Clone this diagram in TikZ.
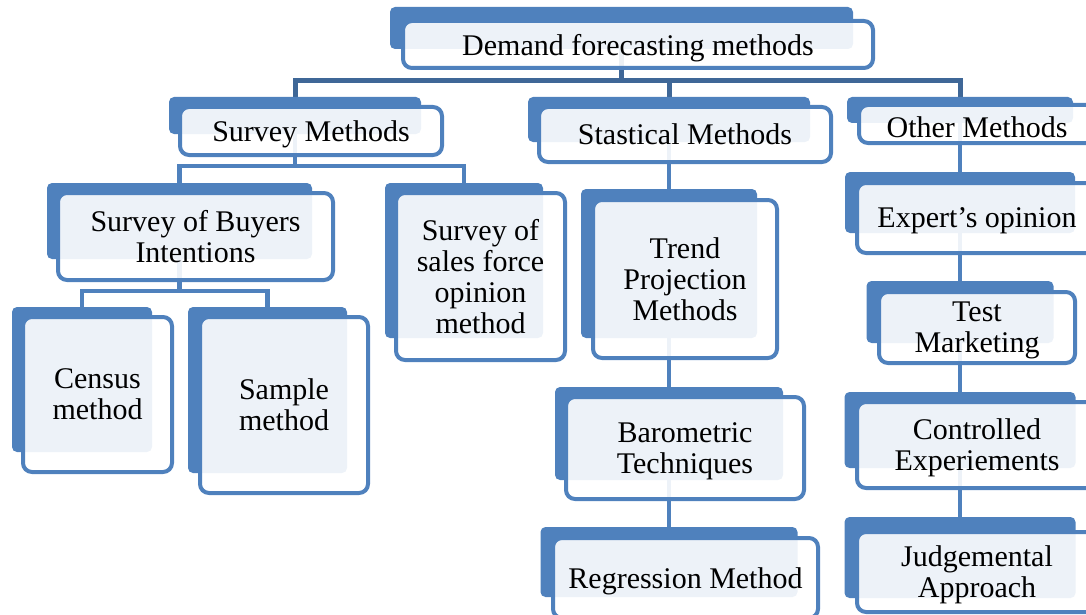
\documentclass[tikz,border=0pt]{standalone}
\usepackage{fontspec}
\setmainfont{Liberation Serif}
\usetikzlibrary{backgrounds}

\definecolor{boxblue}{HTML}{4F81BD}
\definecolor{busblue}{HTML}{3F6797}

\tikzset{
  back/.style={fill=boxblue, rounded corners=5pt, inner sep=0pt},
  front/.style={draw=boxblue, line width=4pt, fill=white, fill opacity=0.9,
    text opacity=1, rounded corners=9pt, inner sep=0pt, align=center,
    font=\fontsize{30}{31}\selectfont, text depth=0pt},
  bus/.style={draw=busblue, line width=5pt},
  link/.style={draw=boxblue, line width=4.5pt}
}

\begin{document}
\begin{tikzpicture}[x=1pt,y=-1pt]
\clip (0,0) rectangle (1086,615);

% back plates
\path (621.5,28) node[back, minimum width=463, minimum height=42] (demb) {};
\path (295,115.5) node[back, minimum width=252, minimum height=37] (survb) {};
\path (669,119.5) node[back, minimum width=282, minimum height=45] (statb) {};
\path (960,110) node[back, minimum width=226, minimum height=26] (othb) {};
\path (960,202.5) node[back, minimum width=230, minimum height=61] (expb) {};
\path (960,312) node[back, minimum width=187, minimum height=62] (testb) {};
\path (960,430) node[back, minimum width=231, minimum height=76] (ctrlb) {};
\path (960,557.5) node[back, minimum width=231, minimum height=81] (judgb) {};
\path (179.5,221) node[back, minimum width=265, minimum height=76] (buyb) {};
\path (464,260.5) node[back, minimum width=158, minimum height=155] (salesb) {};
\path (82,379.5) node[back, minimum width=140, minimum height=145] (censb) {};
\path (267.5,390) node[back, minimum width=159, minimum height=166] (sampb) {};
\path (669,263.5) node[back, minimum width=176, minimum height=149] (trendb) {};
\path (669,433.5) node[back, minimum width=228, minimum height=93] (barob) {};
\path (669,562) node[back, minimum width=257, minimum height=70] (regrb) {};

% front boxes with the labels
\path (638,44.5) node[front, minimum width=470, minimum height=47] (dem) {Demand forecasting methods};
\path (311,131) node[front, minimum width=262, minimum height=48] (surv) {Survey Methods};
\path (685,134.5) node[front, minimum width=292, minimum height=55] (stat) {Stastical Methods};
\path (977,124) node[front, minimum width=236, minimum height=38, text height=27pt] (oth) {Other Methods};
\path (977,218) node[front, minimum width=240, minimum height=70] (exp) {Expert’s opinion};
\path (977,327.5) node[front, minimum width=196, minimum height=71] (test) {Test\\Marketing};
\path (977,445) node[front, minimum width=240, minimum height=86] (ctrl) {Controlled\\Experiements};
\path (977,572) node[front, minimum width=240, minimum height=80] (judg) {Judgemental\\Approach};
\path (195.5,236.5) node[front, minimum width=275, minimum height=87] (buy) {Survey of Buyers\\Intentions};
\path (480.5,276.5) node[front, minimum width=169, minimum height=167] (sales) {Survey of\\sales force\\opinion\\method};
\path (97.5,394.5) node[front, minimum width=149, minimum height=155] (cens) {Census\\method};
\path (284,405) node[front, minimum width=168, minimum height=176] (samp) {Sample\\method};
\path (685,279) node[front, minimum width=184, minimum height=158] (trend) {Trend\\Projection\\Methods};
\path (685,448) node[front, minimum width=238, minimum height=102] (baro) {Barometric\\Techniques};
\path (685.5,578) node[front, minimum width=265, minimum height=80] (regr) {Regression Method};

% connectors, kept behind the boxes
\coordinate (bus1) at (0,81);
\coordinate (bus2) at (0,166);
\coordinate (bus3) at (0,291);
\begin{pgfonlayer}{background}
\foreach \n in {survb,statb,othb}
  \draw[bus] (demb.center) -- (demb.center |- bus1) -| (\n.center);
\foreach \n in {buyb,salesb}
  \draw[link] (survb.center) -- (survb.center |- bus2) -| (\n.center);
\foreach \n in {censb,sampb}
  \draw[link] (buyb.center) -- (buyb.center |- bus3) -| (\n.center);
\draw[link] (statb.center) -- (statb.center |- regrb.center);
\draw[link] (othb.center) -- (othb.center |- judgb.center);
\end{pgfonlayer}
\end{tikzpicture}
\end{document}
